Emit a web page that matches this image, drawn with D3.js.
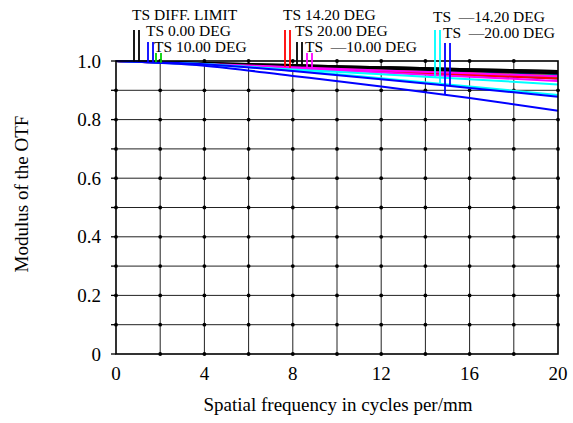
<!DOCTYPE html>
<html><head><meta charset="utf-8">
<script src="https://cdn.jsdelivr.net/npm/d3@7"></script>
<style>
html,body{margin:0;padding:0;background:#fff;}
svg text{font-family:"Liberation Serif","Times New Roman",serif;fill:#000;}
</style></head>
<body><svg id="c" width="573" height="423"></svg>
<script>
// ---- data ----
const freqs = [0, 4, 8, 12, 16, 20];
const xTicks = [0, 4, 8, 12, 16, 20];
const yTicks = [0, 0.2, 0.4, 0.6, 0.8, 1.0];
const fieldLabels = ["TS DIFF. LIMIT", "TS 0.00 DEG", "TS 10.00 DEG", "TS 14.20 DEG", "TS 20.00 DEG", "TS\u2002\u201410.00 DEG", "TS\u2002\u201414.20 DEG", "TS\u2002\u201420.00 DEG"];
const fieldColors = ["#000000", "#0000ff", "#00d000", "#ff0000", "#000000", "#ff00ff", "#00ffff", "#0000ff"];
// tangential / sagittal MTF per field
const diffT = [1.0, 0.993, 0.986, 0.979, 0.972, 0.966];
const diffS = [1.0, 0.993, 0.986, 0.979, 0.972, 0.966];
const f0T   = [1.0, 0.991, 0.982, 0.972, 0.962, 0.953];
const f0S   = [1.0, 0.989, 0.977, 0.964, 0.952, 0.940];
const f10T  = [1.0, 0.990, 0.980, 0.969, 0.959, 0.950];
const f10S  = [1.0, 0.989, 0.978, 0.966, 0.955, 0.945];
const f142T = [1.0, 0.990, 0.979, 0.968, 0.958, 0.948];
const f142S = [1.0, 0.989, 0.977, 0.964, 0.952, 0.940];
const f20T  = [1.0, 0.992, 0.984, 0.976, 0.968, 0.960];
const f20S  = [1.0, 0.992, 0.983, 0.974, 0.966, 0.958];
const fm10T = [1.0, 0.990, 0.979, 0.968, 0.958, 0.948];
const fm10S = [1.0, 0.988, 0.975, 0.961, 0.946, 0.932];
const fm142T= [1.0, 0.987, 0.971, 0.955, 0.938, 0.920];
const fm142S= [1.0, 0.990, 0.968, 0.941, 0.913, 0.884];
const fm20T = [1.0, 0.984, 0.949, 0.913, 0.874, 0.830];
const fm20S = [1.0, 0.989, 0.966, 0.938, 0.908, 0.878];
const seriesT = [diffT, f0T, f10T, f142T, f20T, fm10T, fm142T, fm20T];
const seriesS = [diffS, f0S, f10S, f142S, f20S, fm10S, fm142S, fm20S];

// ---- layout ----
const L = 116, R = 558, T = 61, B = 354;
const svg = d3.select("#c");
const x = d3.scaleLinear().domain([0, 20]).range([L, R]);
const y = d3.scaleLinear().domain([0, 1]).range([B, T]);

// grid
const gx = d3.range(2, 20, 2), gy = d3.range(1, 10).map(d => d / 10);
svg.append("g").selectAll("line").data(gx).join("line")
  .attr("x1", d => x(d)).attr("x2", d => x(d)).attr("y1", T).attr("y2", B)
  .attr("stroke", "#222").attr("stroke-width", 1);
svg.append("g").selectAll("line").data(gy).join("line")
  .attr("x1", L).attr("x2", R).attr("y1", d => y(d)).attr("y2", d => y(d))
  .attr("stroke", "#222").attr("stroke-width", 1);
const dots = [];
[0, ...gx, 20].forEach(a => gy.forEach(b => dots.push([a, b])));
gx.forEach(a => { dots.push([a, 0]); dots.push([a, 1]); });
svg.append("g").selectAll("circle").data(dots).join("circle")
  .attr("cx", d => x(d[0])).attr("cy", d => y(d[1])).attr("r", 1.9).attr("fill", "#000");

// y axis ticks (every 0.1, outward)
svg.append("g").selectAll("line").data(d3.range(0, 11).map(d => d / 10)).join("line")
  .attr("x1", L - 5).attr("x2", L).attr("y1", d => y(d)).attr("y2", d => y(d))
  .attr("stroke", "#000").attr("stroke-width", 1.3);

// curves
const line = d3.line().x((d, i) => x(freqs[i])).y(d => y(d)).curve(d3.curveMonotoneX);
const cg = svg.append("g");
fieldLabels.forEach((lab, k) => {
  [seriesT[k], seriesS[k]].forEach(s => {
    cg.append("path").attr("d", line(s)).attr("fill", "none")
      .attr("stroke", fieldColors[k]).attr("stroke-width", 2);
  });
});

// frame
svg.append("rect").attr("x", L).attr("y", T).attr("width", R - L).attr("height", B - T)
  .attr("fill", "none").attr("stroke", "#000").attr("stroke-width", 1.6);

// tick labels
svg.append("g").selectAll("text").data(xTicks).join("text")
  .attr("x", d => x(d)).attr("y", 380).attr("text-anchor", "middle")
  .style("font-size", "19px").text(d => d);
svg.append("g").selectAll("text").data(yTicks).join("text")
  .attr("x", 101).attr("y", d => y(d) + 6.5).attr("text-anchor", "end")
  .style("font-size", "19px").text(d => d === 0 ? "0" : d3.format(".1f")(d));

// axis titles
svg.append("text").attr("x", (L + R) / 2 + 1).attr("y", 411).attr("text-anchor", "middle")
  .style("font-size", "19px").text("Spatial frequency in cycles per/mm");
svg.append("text").attr("transform", "translate(28,194) rotate(-90)").attr("text-anchor", "middle")
  .style("font-size", "19px").text("Modulus of the OTF");

// legend: label then T/S markers dropping to curve
const legendPos = [[132, 20, 30], [146, 36, 42], [154, 52, 53], [283, 20, 30], [295, 36, 42], [305, 52, 53], [433, 22, 30], [443, 38, 43]];
const interp = (s, f) => {
  const i = Math.min(freqs.length - 2, Math.floor(f / 4));
  const t = (f - freqs[i]) / (freqs[i + 1] - freqs[i]);
  return s[i] + (s[i + 1] - s[i]) * t;
};
const lg = svg.append("g");
fieldLabels.forEach((lab, k) => {
  const [lx, ly, my] = legendPos[k];
  lg.append("text").attr("x", lx).attr("y", ly).style("font-size", "15.5px").text(lab);
  [[seriesT[k], lx + 2], [seriesS[k], lx + 7]].forEach(([s, mx]) => {
    lg.append("line").attr("x1", mx).attr("x2", mx).attr("y1", my)
      .attr("y2", y(interp(s, x.invert(mx))))
      .attr("stroke", fieldColors[k]).attr("stroke-width", 1.8);
  });
});
</script></body></html>
